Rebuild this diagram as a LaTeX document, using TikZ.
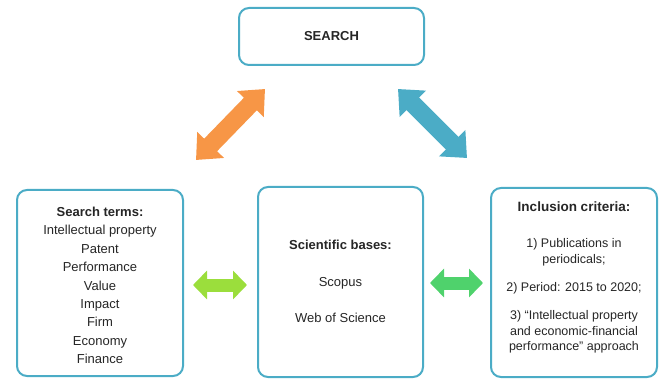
\documentclass[tikz,border=0pt]{standalone}
\usepackage{fontspec}
\setmainfont{Liberation Sans}
\usetikzlibrary{arrows.meta}
\definecolor{boxblue}{HTML}{4BACC6}
\definecolor{arrorange}{HTML}{F79646}
\definecolor{arrblue}{HTML}{4BACC6}
\definecolor{arrlime}{HTML}{9BDE3C}
\definecolor{arrgreen}{HTML}{4FD26C}
\definecolor{txtcol}{HTML}{262626}
\begin{document}
\begin{tikzpicture}[x=1pt,y=-1pt,
  box/.style={draw=boxblue, line width=2pt, rounded corners=10pt, fill=white, inner sep=0pt},
  txt/.style={font=\fontsize{13}{15}\selectfont, text=txtcol, anchor=base, inner sep=0pt},
  ttl/.style={txt, font=\fontsize{13}{15}\selectfont\bfseries},
  rtxt/.style={txt, font=\fontsize{12.5}{15}\selectfont},
  rttl/.style={txt, font=\fontsize{13.5}{15}\selectfont\bfseries},
  bigarrow/.style={line width=18pt, draw=#1, {Triangle[width=36pt,length=21pt]}-{Triangle[width=36pt,length=21pt]}},
  smallarrow/.style={line width=13pt, draw=#1, {Triangle[width=28pt,length=14pt]}-{Triangle[width=28pt,length=14pt]}}
]
\useasboundingbox (0,0) rectangle (663,379);
% boxes
\node[box, minimum width=185pt, minimum height=57pt, font=\fontsize{13}{15}\selectfont\bfseries, text=txtcol] (search) at (331.5,36.5) {SEARCH};
\node[box, minimum width=166pt, minimum height=186pt] (terms) at (100,283) {};
\node[box, minimum width=165pt, minimum height=190pt] (bases) at (340.5,282) {};
\node[box, minimum width=166pt, minimum height=189pt] (crit) at (574,282.5) {};
% left box text
\node[ttl] (t0) at (100,216.5) {Search terms:};
\foreach \w [count=\i] in {Intellectual property,Patent,Performance,Value,Impact,Firm,Economy,Finance}
  \node[txt] (t\i) at (100,{216.5+18.4*\i}) {\w};
% middle box text
\node[ttl] (b0) at (340.5,249.5) {Scientific bases:};
\node[txt] (b1) at (340.5,286.5) {Scopus};
\node[txt] (b2) at (340.5,322.5) {Web of Science};
% right box text
\node[rttl] (c0) at (574,211.5) {Inclusion criteria:};
\node[rtxt] (c1) at (574,247.5) {1) Publications in};
\node[rtxt] (c2) at (574,263.5) {periodicals;};
\node[rtxt] (c3) at (574,291.5) {2) Period: 2015 to 2020;};
\node[rtxt] (c4) at (574,319.5) {3) “Intellectual property};
\node[rtxt] (c5) at (574,335) {and economic-financial};
\node[rtxt] (c6) at (574,350.5) {performance” approach};
% arrows
\coordinate (o1) at (196,160); \coordinate (o2) at (265,89);
\coordinate (u1) at (398,89);  \coordinate (u2) at (467,158);
\coordinate (g1) at (193,285); \coordinate (g2) at (247,285);
\coordinate (h1) at (430,283); \coordinate (h2) at (483,283);
\draw[bigarrow=arrorange] (o1) -- (o2);
\draw[bigarrow=arrblue] (u1) -- (u2);
\draw[smallarrow=arrlime] (g1) -- (g2);
\draw[smallarrow=arrgreen] (h1) -- (h2);
\end{tikzpicture}
\end{document}
